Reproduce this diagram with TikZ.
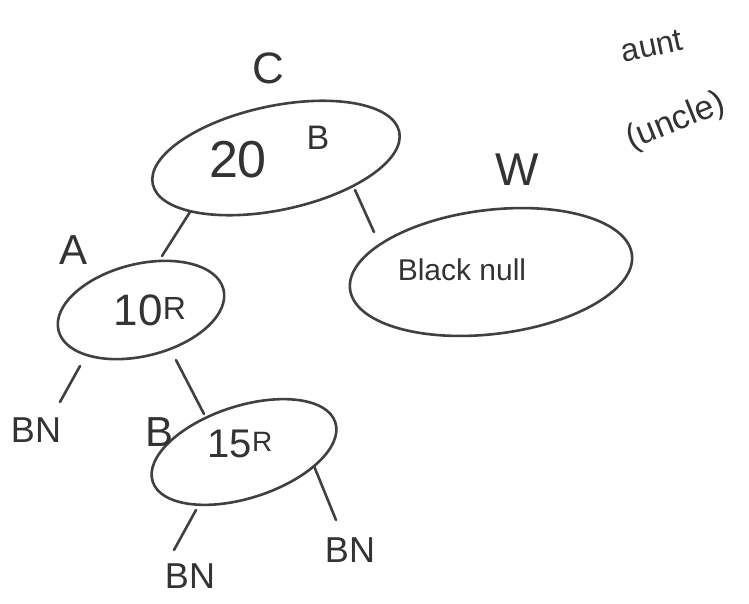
\documentclass[tikz,border=0pt]{standalone}
\usepackage{fontspec}
\setmainfont{Liberation Sans}
\usetikzlibrary{shapes.geometric}
\begin{document}
\begin{tikzpicture}[x=1pt,y=-1pt,
  ink/.style={draw=black!75, line width=2.6pt, line cap=round},
  oval/.style={ink, ellipse, inner sep=0pt},
  hand/.style={text=black!80, inner sep=0pt}]
\useasboundingbox (0,0) rectangle (749,604);
% ellipses
\node[oval, minimum width=252, minimum height=104, rotate=12] (n20) at (276,158) {};
\node[oval, minimum width=170, minimum height=92, rotate=14] (n10) at (141,310) {};
\node[oval, minimum width=284, minimum height=124, rotate=7] (nbn) at (491,272) {};
\node[oval, minimum width=192, minimum height=92, rotate=18] (n15) at (244,452) {};
% texts inside
\node[hand, font=\fontsize{52}{52}\selectfont] (t20) at (238,160) {20};
\node[hand, font=\fontsize{34}{34}\selectfont] (tb1) at (318,138) {B};
\node[hand, font=\fontsize{44}{44}\selectfont] (t10) at (150,310) {10\raisebox{6pt}{\fontsize{32}{32}\selectfont R}};
\node[hand, font=\fontsize{30}{30}\selectfont] (tbn) at (462,270) {Black null};
\node[hand, font=\fontsize{40}{40}\selectfont] (t15) at (240,444) {15\raisebox{6pt}{\fontsize{28}{28}\selectfont R}};
% outside labels
\node[hand, font=\fontsize{44}{44}\selectfont] (lc) at (268,68) {C};
\node[hand, font=\fontsize{42}{42}\selectfont] (la) at (74,250) {A};
\node[hand, font=\fontsize{42}{42}\selectfont] (lb) at (160,432) {B};
\node[hand, font=\fontsize{46}{46}\selectfont] (lw) at (517,170) {W};
\node[hand, font=\fontsize{32}{32}\selectfont, rotate=12] (laun) at (652,46) {aunt};
\node[hand, font=\fontsize{34}{34}\selectfont, rotate=22] (lunc) at (676,122) {(uncle)};
\node[hand, font=\fontsize{36}{36}\selectfont] (bn1) at (36,430) {BN};
\node[hand, font=\fontsize{36}{36}\selectfont] (bn2) at (190,576) {BN};
\node[hand, font=\fontsize{36}{36}\selectfont] (bn3) at (350,550) {BN};
% connector end points on the borders
\coordinate (e20a) at (190,212);
\coordinate (e10a) at (162,256);
\coordinate (e20b) at (355,190);
\coordinate (ebna) at (374,232);
\coordinate (e10b) at (80,366);
\coordinate (c1) at (60,402);
\coordinate (e10c) at (176,360);
\coordinate (e15a) at (204,414);
\coordinate (e15b) at (196,510);
\coordinate (c2) at (174,550);
\coordinate (e15c) at (314,466);
\coordinate (c3) at (336,520);
% connectors
\draw[ink] (e20a) -- (e10a);
\draw[ink] (e20b) -- (ebna);
\draw[ink] (e10b) -- (c1);
\draw[ink] (e10c) -- (e15a);
\draw[ink] (e15b) -- (c2);
\draw[ink] (e15c) -- (c3);
\end{tikzpicture}
\end{document}
